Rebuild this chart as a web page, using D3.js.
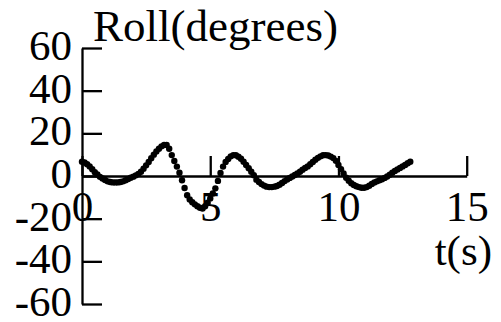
<!DOCTYPE html>
<html>
<head>
<meta charset="utf-8">
<script src="https://cdn.jsdelivr.net/npm/d3@7"></script>
<style>
  body { margin: 0; background: #fff; }
</style>
</head>
<body>
<script>
const t0 = 0, dt = 0.1;
const roll = [6.7, 6.3, 5.5, 4.5, 3.2, 1.8, 0.7, -0.4, -1.2, -1.9,
  -2.5, -2.8, -3.0, -3.0, -3.0, -2.8, -2.5, -2.0, -1.4, -0.8,
  -0.3, 0.3, 1.0, 2.0, 3.4, 5.0, 6.6, 8.3, 10.0, 11.5,
  12.8, 13.9, 14.5, 14.5, 12.8, 9.8, 7.0, 4.4, 1.5, -2.0,
  -5.6, -9.0, -11.0, -12.3, -13.3, -14.2, -14.9, -15.2, -14.2, -12.5,
  -10.5, -8.2, -5.8, -2.3, 1.4, 4.4, 6.6, 8.0, 9.2, 9.8,
  9.7, 9.0, 8.1, 6.7, 5.2, 3.6, 2.0, 0.4, -1.7, -2.8,
  -3.8, -4.5, -5.0, -5.2, -5.2, -5.0, -4.7, -4.1, -3.3, -2.4,
  -1.6, -0.9, -0.2, 0.5, 1.2, 2.0, 2.9, 3.8, 4.5, 5.5,
  6.6, 7.6, 8.5, 9.2, 9.7, 9.8, 9.6, 9.1, 8.4, 7.1,
  5.2, 3.2, 1.2, -0.8, -2.2, -3.4, -4.2, -4.8, -5.2, -5.5,
  -5.5, -5.2, -4.6, -3.7, -3.0, -2.5, -2.0, -1.5, -0.9, -0.2,
  0.6, 1.5, 2.4, 3.1, 3.8, 4.5, 5.2, 6.0, 6.7];
const xTicks = [0, 5, 10, 15];
const yTicks = [-60, -40, -20, 0, 20, 40, 60];
const xTitle = "t(s)";
const yTitle = "Roll(degrees)";

const width = 501, height = 322;
const fs = 43;
const font = "'Liberation Serif', 'Times New Roman', serif";

const svg = d3.select("body")
  .append("svg")
  .attr("width", width)
  .attr("height", height);

const x = d3.scaleLinear().domain([0, 15]).range([82, 466.7]);
const y = d3.scaleLinear().domain([-60, 60]).range([304, 48]);

// y axis, ticks pointing right
const yAxis = svg.append("g")
  .attr("transform", "translate(" + x(0) + ",0)")
  .call(d3.axisLeft(y).tickValues(yTicks).tickFormat(d => String(d))
    .tickSize(-20).tickSizeOuter(0).tickPadding(10));
yAxis.selectAll(".tick text").attr("dy", "0.27em");

// x axis crossing at zero, ticks pointing up
svg.append("g")
  .attr("transform", "translate(0," + y(0) + ")")
  .call(d3.axisBottom(x).tickValues(xTicks).tickFormat(d => String(d))
    .tickSize(-20).tickSizeOuter(0).tickPadding(14));

svg.selectAll("g").attr("font-family", null).attr("font-size", null);
svg.selectAll(".domain, .tick line")
  .attr("stroke", "#000")
  .attr("stroke-width", 2.3);
svg.selectAll(".tick text")
  .attr("fill", "#000")
  .style("font-size", fs + "px")
  .style("font-family", font);

svg.append("text")
  .attr("x", 93).attr("y", 41)
  .style("font-size", "45px")
  .style("font-family", font)
  .text(yTitle);

svg.append("text")
  .attr("x", 492).attr("y", 265)
  .attr("text-anchor", "end")
  .style("font-size", fs + "px")
  .style("font-family", font)
  .text(xTitle);

// dotted trace
svg.append("g")
  .selectAll("circle")
  .data(roll)
  .enter()
  .append("circle")
  .attr("cx", (d, i) => x(t0 + i * dt))
  .attr("cy", d => y(d))
  .attr("r", 3.2)
  .attr("fill", "#000");
</script>
</body>
</html>
